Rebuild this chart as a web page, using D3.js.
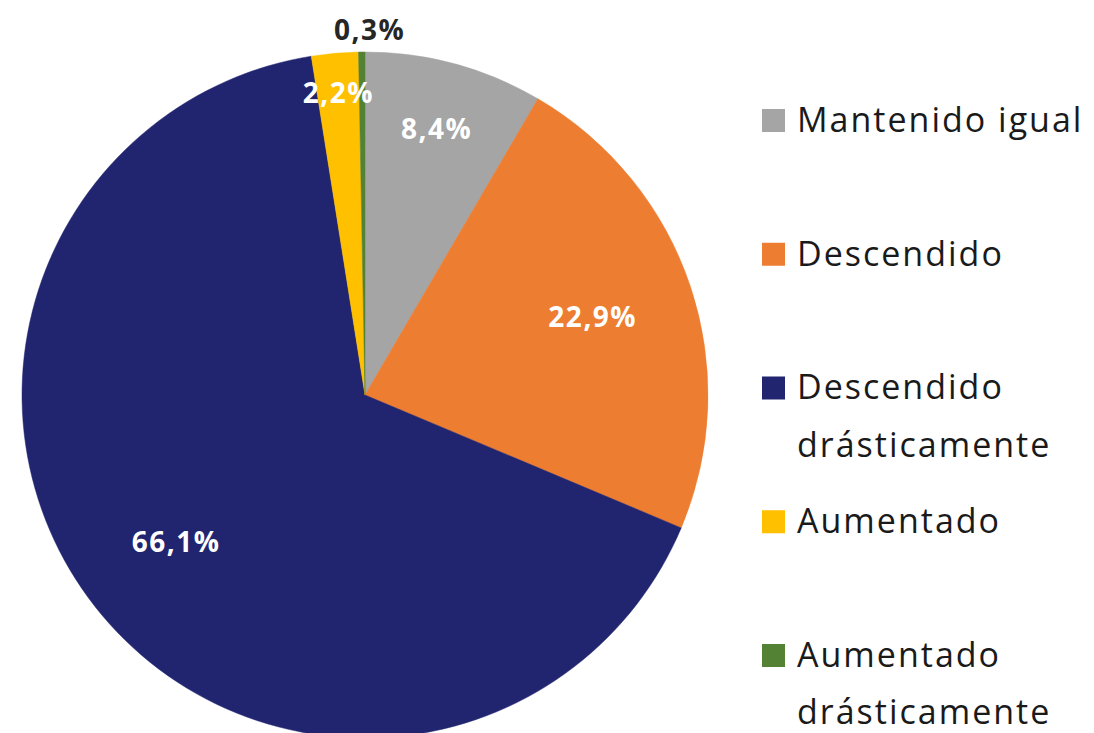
<!DOCTYPE html>
<html>
<head>
  <meta charset="utf-8">
  <script src="https://cdn.jsdelivr.net/npm/d3@7"></script>
  <style>
    body { margin: 0; background: #fff; }
    text { font-family: "Open Sans", "Noto Sans", sans-serif; }
  </style>
</head>
<body>
<script>
  var width = 1094,
      height = 733;

  // slices, clockwise from 12 o'clock
  var categories = ["Mantenido igual", "Descendido", "Descendido drásticamente", "Aumentado", "Aumentado drásticamente"];
  var values = [8.4, 22.9, 66.1, 2.2, 0.3];
  var labels = ["8,4%", "22,9%", "66,1%", "2,2%", "0,3%"];
  var colors = ["#a5a5a5", "#ed7d31", "#21256f", "#ffc000", "#548235"];
  // legend lines (wrapped like the original)
  var legendLines = [["Mantenido igual"], ["Descendido"], ["Descendido", "drásticamente"], ["Aumentado"], ["Aumentado", "drásticamente"]];

  var cx = 365, cy = 395, radius = 343;

  var svg = d3.select("body")
              .append("svg")
              .attr("width", width)
              .attr("height", height);

  var pie = d3.pie().sort(null).value(function(d) { return d; });
  var arcs = pie(values);

  var arc = d3.arc().innerRadius(0).outerRadius(radius);

  var g = svg.append("g").attr("transform", "translate(" + cx + "," + cy + ")");

  g.selectAll("path.slice")
    .data(arcs)
    .enter()
    .append("path")
    .attr("class", "slice")
    .attr("d", arc)
    .attr("fill", function(d, i) { return colors[i]; })
    .attr("stroke", function(d, i) { return colors[i]; })
    .attr("stroke-width", 0.5);

  // label radius depends on how big the slice is
  function labelPos(d) {
    var share = d.data;
    var r;
    if (share < 1) r = radius * 1.06;
    else if (share < 5) r = radius * 0.88;
    else if (share < 15) r = radius * 0.8;
    else r = radius * 0.7;
    var a = (d.startAngle + d.endAngle) / 2;
    var p = [Math.sin(a) * r, -Math.cos(a) * r];
    if (share < 1) p[0] += 8;
    return p;
  }

  g.selectAll("text.lbl")
    .data(arcs)
    .enter()
    .append("text")
    .attr("class", "lbl")
    .attr("x", function(d) { return labelPos(d)[0]; })
    .attr("y", function(d) { return labelPos(d)[1]; })
    .attr("dy", "0.3em")
    .attr("text-anchor", "middle")
    .attr("font-size", 28)
    .attr("letter-spacing", 1.5)
    .attr("font-weight", "bold")
    .attr("fill", function(d) { return d.data < 1 ? "#262626" : "#ffffff"; })
    .text(function(d, i) { return labels[i]; });

  // legend
  var legendY = d3.scalePoint()
                  .domain(categories)
                  .range([120, 655]);

  var legend = svg.append("g")
                  .selectAll("g")
                  .data(categories)
                  .enter()
                  .append("g")
                  .attr("transform", function(d) { return "translate(762," + legendY(d) + ")"; });

  legend.append("rect")
    .attr("x", 0)
    .attr("y", -11)
    .attr("width", 23)
    .attr("height", 23)
    .attr("fill", function(d, i) { return colors[i]; });

  legend.append("text")
    .attr("x", 35)
    .attr("y", 0)
    .attr("font-size", 34)
    .attr("letter-spacing", 2)
    .attr("fill", "#1a1a1a")
    .selectAll("tspan")
    .data(function(d, i) { return legendLines[i]; })
    .enter()
    .append("tspan")
    .attr("x", 35)
    .attr("dy", function(d, j) { return j === 0 ? "0.35em" : "1.68em"; })
    .text(function(d) { return d; });
</script>
</body>
</html>
